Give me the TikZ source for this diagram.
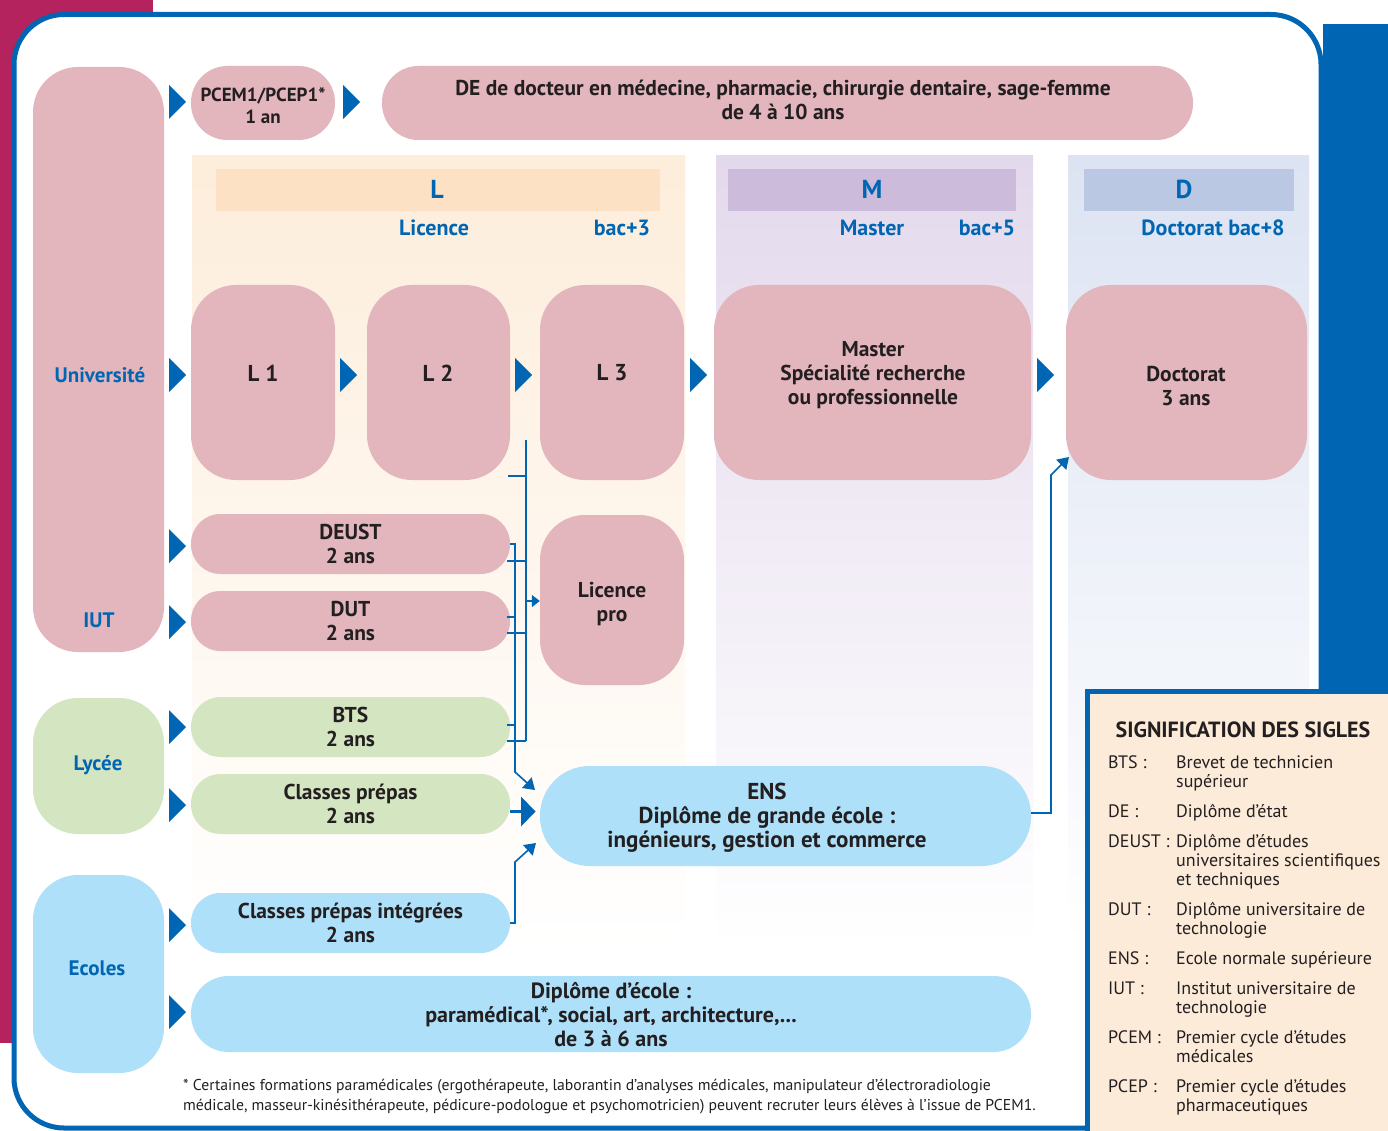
\documentclass[tikz,border=0pt]{standalone}
\usepackage{fontspec}
\setmainfont{PT Sans}
\usetikzlibrary{arrows.meta,calc}
\definecolor{bl}{HTML}{0066B3}
\definecolor{mag}{HTML}{B5235E}
\definecolor{pk}{HTML}{E3B6BE}
\definecolor{gr}{HTML}{D4E6C1}
\definecolor{lb}{HTML}{AEE0F9}
\definecolor{txt}{HTML}{231F20}
\definecolor{lcol}{HTML}{FDEDDB}
\definecolor{lhead}{HTML}{FDE1C4}
\definecolor{mcol}{HTML}{E3D9EC}
\definecolor{mhead}{HTML}{CCBBDA}
\definecolor{dcol}{HTML}{DCE3F2}
\definecolor{dhead}{HTML}{BBC8E3}
\definecolor{leg}{HTML}{FDEBD9}
\tikzset{arrtri/.pic={\fill[bl] (-8.5,-17) -- (8.5,0) -- (-8.5,17) -- cycle;}}
\begin{document}
\begin{tikzpicture}[x=1pt,y=-1pt,
  box/.style={rectangle, inner sep=0pt, align=center, text=txt, font=\bfseries\fontsize{21.5}{24}\selectfont},
  lbl/.style={text=bl, inner sep=0pt, font=\bfseries\fontsize{21}{24}\selectfont},
  big/.style={text=txt, inner sep=0pt, font=\bfseries\fontsize{23}{24}\selectfont},
  conn/.style={draw=bl, line width=1.6pt},
  tipend/.style={-{Triangle[length=11pt,width=14pt]}},
  tipsmall/.style={-{Triangle[length=8pt,width=12pt]}}]
\useasboundingbox (0,0) rectangle (1388,1131);
% background bands
\fill[mag] (0,0) rectangle (153,1043);
\fill[bl] (1323,24) rectangle (1388,694);
\draw[bl, line width=5pt, fill=white, rounded corners=50pt] (14,14.5) rectangle (1321,1128);
% columns
\shade[top color=lcol, bottom color=white] (192,156) rectangle (685,945);
\shade[top color=mcol, bottom color=white] (716,156) rectangle (1033,945);
\shade[top color=dcol, bottom color=white] (1068,156) rectangle (1309,945);
\fill[lhead] (216,169) rectangle (660,211);
\fill[mhead] (728,169) rectangle (1016,211);
\fill[dhead] (1084,169) rectangle (1294,211);
\node[lbl, font=\bfseries\fontsize{26}{26}\selectfont] (hL) at (437,189) {L};
\node[lbl, font=\bfseries\fontsize{26}{26}\selectfont] (hM) at (872,189) {M};
\node[lbl, font=\bfseries\fontsize{26}{26}\selectfont] (hD) at (1184,189) {D};
\node[lbl, font=\bfseries\fontsize{22}{24}\selectfont] (sL) at (434,228) {Licence};
\node[lbl, font=\bfseries\fontsize{22}{24}\selectfont] (bL) at (622,228) {bac+3};
\node[lbl, font=\bfseries\fontsize{22}{24}\selectfont] (sM) at (872,228) {Master};
\node[lbl, font=\bfseries\fontsize{22}{24}\selectfont] (bM) at (987,228) {bac+5};
\node[lbl, font=\bfseries\fontsize{22}{24}\selectfont] (sD) at (1213,228) {Doctorat bac+8};
% left column
\node[box, fill=pk, minimum width=131pt, minimum height=585pt, rounded corners=45pt] (univ) at (98.5,359.5) {};
\node[lbl] (univt) at (100,375) {Université};
\node[lbl] (iutt) at (99,620) {IUT};
\node[box, fill=gr, minimum width=131pt, minimum height=136pt, rounded corners=45pt] (lycee) at (98.5,766) {};
\node[lbl] (lyceet) at (98,765) {Lycée};
\node[box, fill=lb, minimum width=131pt, minimum height=198pt, rounded corners=45pt] (ecoles) at (98.5,974) {};
\node[lbl] (ecolest) at (97,968) {Ecoles};
% top row
\node[box, fill=pk, minimum width=144pt, minimum height=74pt, rounded corners=36.5pt] (pcem) at (263,103) {};
\node[box, font=\bfseries\fontsize{19}{22}\selectfont] (pcemt) at (263,106) {PCEM1/PCEP1*\\1 an};
\node[box, fill=pk, minimum width=811pt, minimum height=74pt, rounded corners=36.5pt] (de) at (787.5,103) {};
\node[box] (det) at (783,100) {DE de docteur en médecine, pharmacie, chirurgie dentaire, sage-femme\\de 4 à 10 ans};
% LMD row
\node[box, fill=pk, minimum width=144pt, minimum height=195pt, rounded corners=45pt] (l1) at (263,382.5) {};
\node[box, fill=pk, minimum width=143pt, minimum height=195pt, rounded corners=45pt] (l2) at (438.5,382.5) {};
\node[box, fill=pk, minimum width=144pt, minimum height=195pt, rounded corners=45pt] (l3) at (612,382.5) {};
\node[box, fill=pk, minimum width=317pt, minimum height=195pt, rounded corners=45pt] (master) at (872.5,382.5) {};
\node[box, fill=pk, minimum width=241pt, minimum height=195pt, rounded corners=45pt] (doct) at (1186.5,382.5) {};
\node[big] (l1t) at (263,373) {L 1};
\node[big] (l2t) at (438,373) {L 2};
\node[big] (l3t) at (612,373) {L 3};
\node[box] (mastert) at (873,375) {Master\\Spécialité recherche\\ou professionnelle};
\node[box] (doctt) at (1186,386) {Doctorat\\3 ans};
% two-year rows
\node[box, fill=pk, minimum width=319pt, minimum height=60pt, rounded corners=29.5pt] (deust) at (350.5,544) {DEUST\\2 ans};
\node[box, fill=pk, minimum width=319pt, minimum height=60pt, rounded corners=29.5pt] (dut) at (350.5,621) {DUT\\2 ans};
\node[box, fill=gr, minimum width=319pt, minimum height=60pt, rounded corners=29.5pt] (bts) at (350.5,727) {BTS\\2 ans};
\node[box, fill=gr, minimum width=319pt, minimum height=60pt, rounded corners=29.5pt] (cp) at (350.5,804) {Classes prépas\\2 ans};
\node[box, fill=lb, minimum width=319pt, minimum height=60pt, rounded corners=29.5pt] (cpi) at (350.5,923) {Classes prépas intégrées\\2 ans};
\node[box, fill=pk, minimum width=144pt, minimum height=170pt, rounded corners=45pt] (lpro) at (612,600) {};
\node[box] (lprot) at (612,604) {Licence\\pro};
\node[box, fill=lb, minimum width=491pt, minimum height=100pt, rounded corners=49.5pt] (ens) at (785.5,816) {};
\node[box, font=\bfseries\fontsize{23}{24}\selectfont] (enst) at (767,818) {ENS\\Diplôme de grande école :\\ingénieurs, gestion et commerce};
\node[box, fill=lb, minimum width=840pt, minimum height=76pt, rounded corners=37.5pt] (dip) at (611,1014) {};
\node[box, font=\bfseries\fontsize{22}{24}\selectfont] (dipt) at (611,1015) {Diplôme d’école :\\paramédical*, social, art, architecture,...\\de 3 à 6 ans};
% big triangles
\pic at (177.5,102) {arrtri};
\pic at (351.5,102) {arrtri};
\pic at (177.5,375) {arrtri};
\pic at (348.5,375) {arrtri};
\pic at (523.5,375) {arrtri};
\pic at (698.5,375) {arrtri};
\pic at (1045.5,375) {arrtri};
\pic at (177.5,546) {arrtri};
\pic at (177.5,622) {arrtri};
\pic at (177.5,727) {arrtri};
\pic at (177.5,805) {arrtri};
\pic at (177.5,925) {arrtri};
\pic at (177.5,1012) {arrtri};
% connectors
\draw[conn] (525.7,440) -- (525.7,741);
\draw[conn] (508,476) -- (525.7,476);
\draw[conn] (507,561) -- (525.7,561);
\draw[conn] (507,633) -- (525.7,633);
\draw[conn] (507,741) -- (525.7,741);
\draw[conn, tipsmall] (525.7,601) -- (lpro.west |- 0,601);
\draw[conn, tipend] (deust.east) -- (515,544) -- (515,772) -- (535,790);
\draw[conn] (507,617) -- (515,617);
\draw[conn] (507,725) -- (515,725);
\draw[conn, line width=3pt] (cp.east |- 0,811) -- (522,811);
\fill[bl] (521,796.5) -- (535.5,811.5) -- (521,826.5) -- cycle;
\draw[conn, tipend] (cpi.east) -- (515,923) -- (515,862) -- (536,843);
\draw[conn, tipend] (ens.east |- 0,813) -- (1051,813) -- (1051,475) -- (1069,457);
% legend
\draw[bl, line width=5pt, fill=leg] (1087.5,691.5) rectangle (1400,1140);
\node[text=txt, inner sep=0pt, font=\bfseries\fontsize{22}{22}\selectfont] (legt) at (1243,730) {SIGNIFICATION DES SIGLES};
\node[anchor=north west, inner sep=0pt, text=txt, font=\fontsize{18}{19}\selectfont] (legb) at (1108,755) {%
\begin{tabular}{@{}p{68pt}@{}l@{}}
BTS : & Brevet de technicien\\
 & supérieur\\[11pt]
DE : & Diplôme d’état\\[11pt]
DEUST : & Diplôme d’études\\
 & universitaires scientifiques\\
 & et techniques\\[11pt]
DUT : & Diplôme universitaire de\\
 & technologie\\[11pt]
ENS : & Ecole normale supérieure\\[11pt]
IUT : & Institut universitaire de\\
 & technologie\\[11pt]
PCEM : & Premier cycle d’études\\
 & médicales\\[11pt]
PCEP : & Premier cycle d’études\\
 & pharmaceutiques
\end{tabular}};
% footnote
\node[anchor=west, align=left, inner sep=0pt, text=txt, font=\fontsize{15.7}{20}\selectfont] (fn) at (183,1097) {* Certaines formations paramédicales (ergothérapeute, laborantin d'analyses médicales, manipulateur d'électroradiologie\\médicale, masseur-kinésithérapeute, pédicure-podologue et psychomotricien) peuvent recruter leurs élèves à l’issue de PCEM1.};
\end{tikzpicture}
\end{document}
